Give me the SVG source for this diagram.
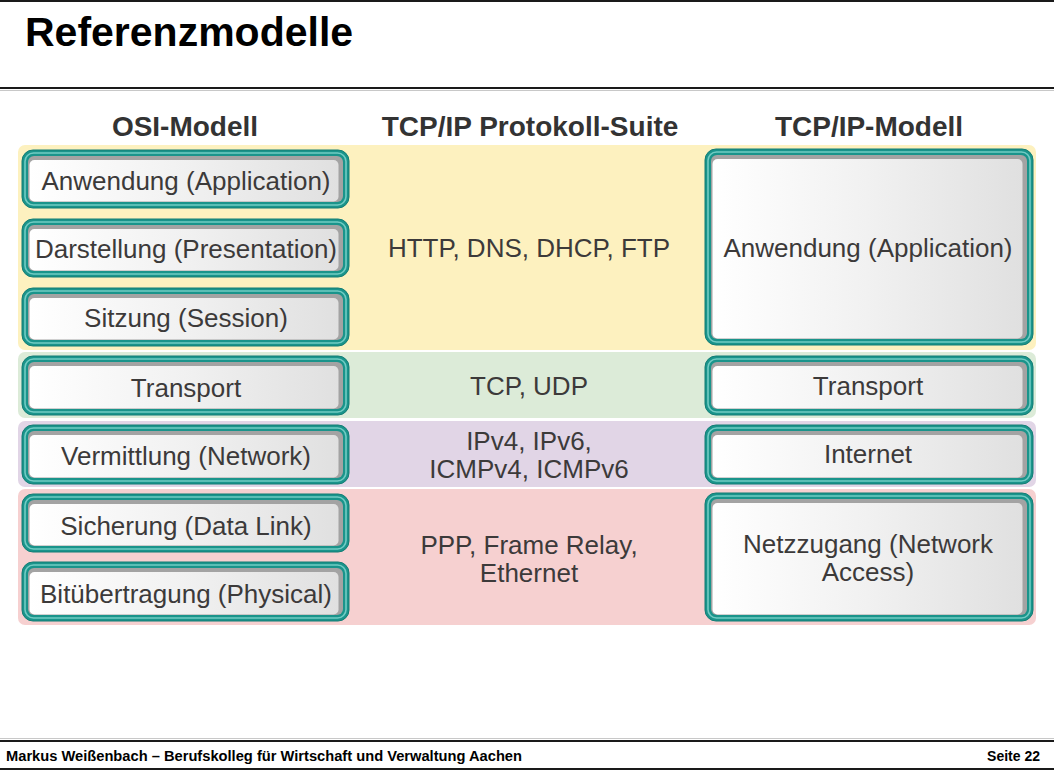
<svg xmlns="http://www.w3.org/2000/svg" width="1054" height="770" viewBox="0 0 1054 770">
  <defs>
    <linearGradient id="faceGrad" x1="0" y1="0" x2="1" y2="0">
      <stop offset="0" stop-color="#ffffff"/>
      <stop offset="0.5" stop-color="#f1f1f1"/>
      <stop offset="1" stop-color="#e0e0e0"/>
    </linearGradient>
    <style>
      .title { font-family: "Liberation Sans", Arial, sans-serif; font-weight: bold; font-size: 41px; fill: #000; }
      .colhead { font-family: "Liberation Sans", Arial, sans-serif; font-weight: bold; font-size: 28px; fill: #333; text-anchor: middle; }
      .lbl { font-family: "Liberation Sans", Arial, sans-serif; font-size: 26px; fill: #3c3a3a; text-anchor: middle; }
      .foot { font-family: "Liberation Sans", Arial, sans-serif; font-weight: bold; font-size: 14px; fill: #000; }
      .ring { fill: #1a948b; stroke: #137d75; stroke-width: 1; }
      .stripe { fill: none; stroke: #72cbc3; stroke-width: 1.6; }
      .shade { fill: #a3a3a3; }
      .face { fill: url(#faceGrad); }
      .rule { stroke: #1a1a1a; stroke-width: 2; }
      .rule-lt { stroke: #c8c8c8; stroke-width: 1; }
    </style>
  </defs>

  <rect x="0" y="0" width="1054" height="770" fill="#ffffff"/>

  <!-- page frame: header and footer rules -->
  <g id="frame">
    <line class="rule" x1="0" y1="1" x2="1054" y2="1"/>
    <line class="rule" x1="0" y1="88" x2="1054" y2="88"/>
    <line class="rule-lt" x1="0" y1="90.5" x2="1054" y2="90.5"/>
    <line class="rule-lt" x1="0" y1="738.5" x2="1054" y2="738.5"/>
    <line class="rule" x1="0" y1="741" x2="1054" y2="741"/>
    <line class="rule" x1="0" y1="769" x2="1054" y2="769"/>
  </g>

  <text id="title" class="title" x="25" y="46">Referenzmodelle</text>

  <!-- column headings -->
  <g id="headings">
    <text class="colhead" x="185" y="136">OSI-Modell</text>
    <text class="colhead" x="530" y="136">TCP/IP Protokoll-Suite</text>
    <text class="colhead" x="869" y="136">TCP/IP-Modell</text>
  </g>

  <!-- coloured layer bands -->
  <g id="bands">
    <rect x="18" y="145" width="1018" height="205" rx="7" fill="#fdf1bf"/>
    <rect x="18" y="352" width="1018" height="66" rx="7" fill="#dcebd8"/>
    <rect x="18" y="421" width="1018" height="66" rx="7" fill="#e1d5e6"/>
    <rect x="18" y="489" width="1018" height="136" rx="7" fill="#f6d0d0"/>
  </g>

  <!-- protocol suite texts -->
  <g id="protocols">
    <text class="lbl" x="529" y="257">HTTP, DNS, DHCP, FTP</text>
    <text class="lbl" x="529" y="395">TCP, UDP</text>
    <text class="lbl" x="529" y="450">IPv4, IPv6,</text>
    <text class="lbl" x="529" y="478">ICMPv4, ICMPv6</text>
    <text class="lbl" x="529" y="554">PPP, Frame Relay,</text>
    <text class="lbl" x="529" y="582">Ethernet</text>
  </g>

  <!-- OSI layers -->
  <g id="osi-application">
    <rect class="ring" x="22" y="150" width="327" height="58" rx="11"/>
    <rect class="stripe" x="25" y="153" width="321" height="52" rx="8.5"/>
    <rect class="shade" x="28" y="156" width="315" height="46" rx="6"/>
    <rect class="face" x="29.5" y="160" width="309" height="41.5" rx="5"/>
    <text class="lbl" x="186" y="190">Anwendung (Application)</text>
  </g>
  <g id="osi-presentation">
    <rect class="ring" x="22" y="219" width="327" height="58" rx="11"/>
    <rect class="stripe" x="25" y="222" width="321" height="52" rx="8.5"/>
    <rect class="shade" x="28" y="225" width="315" height="46" rx="6"/>
    <rect class="face" x="29.5" y="229" width="309" height="41.5" rx="5"/>
    <text class="lbl" x="186" y="258">Darstellung (Presentation)</text>
  </g>
  <g id="osi-session">
    <rect class="ring" x="22" y="288" width="327" height="58" rx="11"/>
    <rect class="stripe" x="25" y="291" width="321" height="52" rx="8.5"/>
    <rect class="shade" x="28" y="294" width="315" height="46" rx="6"/>
    <rect class="face" x="29.5" y="298" width="309" height="41.5" rx="5"/>
    <text class="lbl" x="186" y="327">Sitzung (Session)</text>
  </g>
  <g id="osi-transport">
    <rect class="ring" x="22" y="356" width="327" height="59" rx="11"/>
    <rect class="stripe" x="25" y="359" width="321" height="53" rx="8.5"/>
    <rect class="shade" x="28" y="362" width="315" height="47" rx="6"/>
    <rect class="face" x="29.5" y="366" width="309" height="42.5" rx="5"/>
    <text class="lbl" x="186" y="397">Transport</text>
  </g>
  <g id="osi-network">
    <rect class="ring" x="22" y="425" width="327" height="59" rx="11"/>
    <rect class="stripe" x="25" y="428" width="321" height="53" rx="8.5"/>
    <rect class="shade" x="28" y="431" width="315" height="47" rx="6"/>
    <rect class="face" x="29.5" y="435" width="309" height="42.5" rx="5"/>
    <text class="lbl" x="186" y="465">Vermittlung (Network)</text>
  </g>
  <g id="osi-datalink">
    <rect class="ring" x="22" y="494" width="327" height="58" rx="11"/>
    <rect class="stripe" x="25" y="497" width="321" height="52" rx="8.5"/>
    <rect class="shade" x="28" y="500" width="315" height="46" rx="6"/>
    <rect class="face" x="29.5" y="504" width="309" height="41.5" rx="5"/>
    <text class="lbl" x="186" y="535">Sicherung (Data Link)</text>
  </g>
  <g id="osi-physical">
    <rect class="ring" x="22" y="562" width="327" height="59" rx="11"/>
    <rect class="stripe" x="25" y="565" width="321" height="53" rx="8.5"/>
    <rect class="shade" x="28" y="568" width="315" height="47" rx="6"/>
    <rect class="face" x="29.5" y="572" width="309" height="42.5" rx="5"/>
    <text class="lbl" x="186" y="603">Bitübertragung (Physical)</text>
  </g>

  <!-- TCP/IP model layers -->
  <g id="tcpip-application">
    <rect class="ring" x="705" y="149" width="328" height="196" rx="11"/>
    <rect class="stripe" x="708" y="152" width="322" height="190" rx="8.5"/>
    <rect class="shade" x="711" y="155" width="316" height="184" rx="6"/>
    <rect class="face" x="712.5" y="159" width="310" height="179.5" rx="5"/>
    <text class="lbl" x="868" y="257">Anwendung (Application)</text>
  </g>
  <g id="tcpip-transport">
    <rect class="ring" x="705" y="356" width="328" height="59" rx="11"/>
    <rect class="stripe" x="708" y="359" width="322" height="53" rx="8.5"/>
    <rect class="shade" x="711" y="362" width="316" height="47" rx="6"/>
    <rect class="face" x="712.5" y="366" width="310" height="42.5" rx="5"/>
    <text class="lbl" x="868" y="395">Transport</text>
  </g>
  <g id="tcpip-internet">
    <rect class="ring" x="705" y="425" width="328" height="59" rx="11"/>
    <rect class="stripe" x="708" y="428" width="322" height="53" rx="8.5"/>
    <rect class="shade" x="711" y="431" width="316" height="47" rx="6"/>
    <rect class="face" x="712.5" y="435" width="310" height="42.5" rx="5"/>
    <text class="lbl" x="868" y="463">Internet</text>
  </g>
  <g id="tcpip-access">
    <rect class="ring" x="705" y="493" width="328" height="128" rx="11"/>
    <rect class="stripe" x="708" y="496" width="322" height="122" rx="8.5"/>
    <rect class="shade" x="711" y="499" width="316" height="116" rx="6"/>
    <rect class="face" x="712.5" y="503" width="310" height="111.5" rx="5"/>
    <text class="lbl" x="868" y="553">Netzzugang (Network</text>
    <text class="lbl" x="868" y="581">Access)</text>
  </g>

  <!-- footer -->
  <g id="footer">
    <text class="foot" x="6" y="761" textLength="516" lengthAdjust="spacingAndGlyphs">Markus Weißenbach – Berufskolleg für Wirtschaft und Verwaltung Aachen</text>
    <text class="foot" x="1040" y="761" text-anchor="end">Seite 22</text>
  </g>
</svg>
